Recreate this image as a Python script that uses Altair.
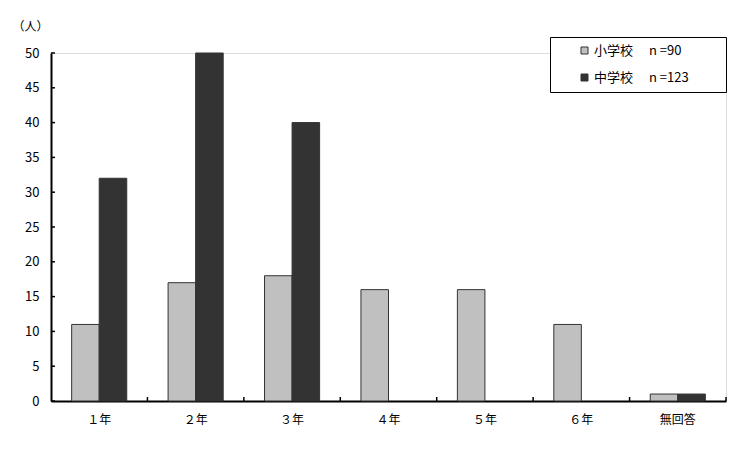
import altair as alt
import pandas as pd

categories = ["１年", "２年", "３年", "４年", "５年", "６年", "無回答"]
elementary = [11, 17, 18, 16, 16, 11, 1]
junior = [32, 50, 40, 0, 0, 0, 1]
series = ["小学校", "中学校"]
series_labels = {"小学校": "小学校　 n =90", "中学校": "中学校　 n =123\u2800\u2800\u2800"}
y_ticks = [0, 5, 10, 15, 20, 25, 30, 35, 40, 45, 50]

rows = []
for c, e, j in zip(categories, elementary, junior):
    rows.append({"cat": c, "group": "小学校", "value": e})
    rows.append({"cat": c, "group": "中学校", "value": j})
df = pd.DataFrame(rows)
cat_df = pd.DataFrame({"cat": categories})
tick_df = pd.DataFrame({"v": y_ticks})

FONT = "Noto Sans CJK JP"
W, H = 675, 348

x_axis = alt.Axis(
    title=None, labelAngle=0, ticks=False, labelPadding=13,
    labelFontSize=12, labelColor="black", domainColor="black", domainWidth=2,
    labelFont=FONT,
)
x_scale = alt.Scale(paddingInner=0, paddingOuter=0)

y_axis = alt.Axis(
    values=y_ticks, ticks=False, grid=False, labelPadding=12,
    labelOverlap=False,
    labelFontSize=13, labelColor="black", domainColor="black", domainWidth=2,
    labelFont=FONT,
    title="（人）", titleAngle=0, titleX=-21, titleY=-27,
    titleAlign="center", titleBaseline="middle", titleFontWeight="normal",
    titleFontSize=12, titleFont=FONT, titleColor="black",
)
y_scale = alt.Scale(domain=[0, 50], nice=False)

label_expr = "datum.label == '小学校' ? '%s' : '%s'" % (series_labels["小学校"], series_labels["中学校"])

bars = alt.Chart(df).transform_filter("datum.value > 0").mark_bar(
    stroke="#333333", strokeWidth=1
).encode(
    x=alt.X("cat:N", sort=categories, scale=x_scale, axis=x_axis),
    xOffset=alt.XOffset("group:N", sort=series,
                        scale=alt.Scale(domain=series, paddingInner=0, paddingOuter=0.75)),
    y=alt.Y("value:Q", scale=y_scale, axis=y_axis),
    color=alt.Color(
        "group:N",
        sort=series,
        scale=alt.Scale(domain=series, range=["#C0C0C0", "#333333"]),
        legend=alt.Legend(
            title=None, orient="none", legendX=499, legendY=-16,
            strokeColor="black", fillColor="white", padding=7, rowPadding=13,
            symbolType="square", symbolSize=49, symbolStrokeColor="#333333",
            symbolStrokeWidth=1, labelFontSize=13, labelFont=FONT, labelColor="black",
            labelOffset=3, symbolOffset=21, labelExpr=label_expr, labelLimit=300,
        ),
    ),
)

x_ticks = alt.Chart(cat_df).mark_rule(color="black", strokeWidth=1.5).encode(
    x=alt.X("cat:N", sort=categories, bandPosition=1, scale=x_scale, axis=x_axis),
    y=alt.value(H),
    y2=alt.value(H - 4),
)

y_tick_marks = alt.Chart(tick_df).mark_rule(color="black", strokeWidth=1.5).encode(
    y=alt.Y("v:Q", scale=y_scale, axis=y_axis),
    x=alt.value(0),
    x2=alt.value(4),
)

chart = alt.layer(bars, x_ticks, y_tick_marks).properties(
    width=W, height=H,
    autosize=alt.AutoSizeParams(type="none"),
    padding={"left": 43, "top": 45, "right": 22, "bottom": 53},
).configure_view(stroke=None).configure(font=FONT)

chart.save("out.html", embed_options={"renderer": "svg", "actions": False})
